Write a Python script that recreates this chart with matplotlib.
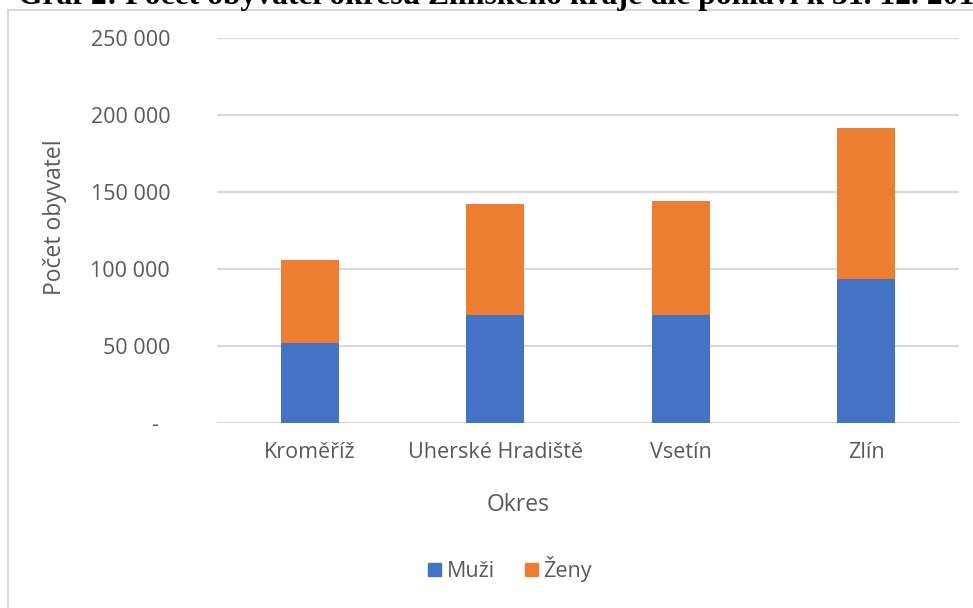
import numpy as np
import matplotlib
matplotlib.use("Agg")
import matplotlib.pyplot as plt
from matplotlib.lines import Line2D
from matplotlib.patches import Patch
from matplotlib.ticker import FuncFormatter

# data
okresy = ["Kroměříž", "Uherské Hradiště", "Vsetín", "Zlín"]
muzi = [51700, 69900, 69900, 93500]
zeny = [54300, 72500, 74400, 98000]
y_ticks = [0, 50000, 100000, 150000, 200000, 250000]

modra = "#4472C4"
oranzova = "#ED7D31"
seda = "#595959"
mrizka = "#D9D9D9"

plt.rcParams["font.family"] = ["Open Sans", "DejaVu Sans"]

W, H = 973, 608
fig = plt.figure(figsize=(W / 100, H / 100), dpi=100)

# plot area in pixels
left, right, top, bottom = 217.4, 958.6, 38, 423
ax = fig.add_axes([left / W, 1 - bottom / H, (right - left) / W, (bottom - top) / H])

x = np.arange(len(okresy))
ax.bar(x, muzi, width=0.313, color=modra, label="Muži", zorder=3)
ax.bar(x, zeny, width=0.313, bottom=muzi, color=oranzova, label="Ženy", zorder=3)

ax.set_xlim(-0.5, len(okresy) - 0.5)
ax.set_ylim(0, 250000)
ax.set_yticks(y_ticks)


def popisek(v, pos):
    if v == 0:
        return "-  "
    return f"{int(v):,}".replace(",", " ")


ax.yaxis.set_major_formatter(FuncFormatter(popisek))
ax.set_xticks(x)
ax.set_xticklabels(okresy)

ax.tick_params(axis="y", length=0, pad=34, labelsize=15.5, labelcolor=seda)
ax.tick_params(axis="x", length=0, pad=14, labelsize=15.5, labelcolor=seda)

ax.grid(axis="y", color=mrizka, linewidth=1.6, zorder=0)
for s in ax.spines.values():
    s.set_visible(False)

ax.set_ylabel("Počet obyvatel", fontsize=16.5, color=seda, va="center")
ax.yaxis.set_label_coords((55 - left) / (right - left), (bottom - 217) / (bottom - top))
ax.set_xlabel("Okres", fontsize=16.5, color=seda, va="center")
ax.xaxis.set_label_coords((518 - left) / (right - left), (bottom - 505) / (bottom - top))

handles = [Patch(color=modra), Patch(color=oranzova)]
fig.legend(handles, ["Muži", "Ženy"], loc="center", ncol=2,
           bbox_to_anchor=(510 / W, 1 - 569 / H), frameon=False,
           fontsize=15.5, labelcolor=seda, handlelength=0.6, handleheight=0.6,
           handletextpad=0.25, columnspacing=1.4)

# chart frame (cut off on the right and bottom)
fig.add_artist(Line2D([7.5 / W, 7.5 / W], [0, 1 - 10 / H], color=mrizka,
                      linewidth=1.5, transform=fig.transFigure))
fig.add_artist(Line2D([7.5 / W, 1], [1 - 10 / H, 1 - 10 / H], color=mrizka,
                      linewidth=1.5, transform=fig.transFigure))

# caption above the chart, mostly cut off
fig.text(18 / W, 1 - 4 / H, "Graf 2: Počet obyvatel okresů Zlínského kraje dle pohlaví k 31. 12. 2019",
         family="Liberation Serif", fontweight="bold", fontsize=22.8, color="black",
         ha="left", va="baseline")

fig.savefig("out.png", dpi=100)
